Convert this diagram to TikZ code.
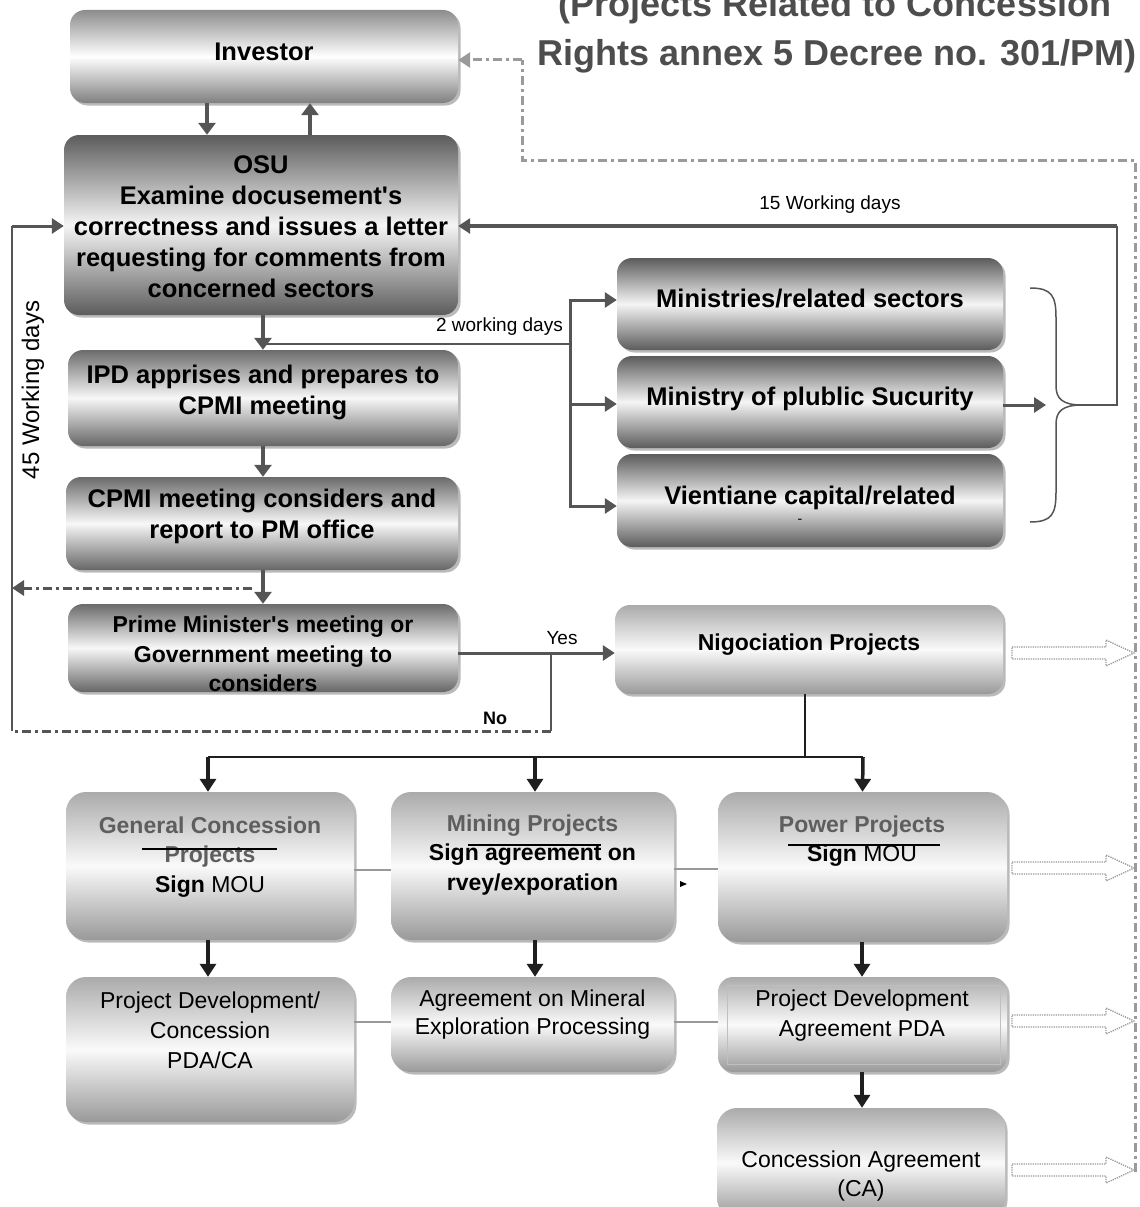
\documentclass[tikz,border=0pt]{standalone}
\usepackage{fontspec}
\setmainfont{Liberation Sans}[Ligatures=TeXOff]
\usetikzlibrary{arrows.meta,shadows}

\definecolor{linegray}{HTML}{555555}
\definecolor{dashgray}{HTML}{9A9A9A}
\definecolor{titlegray}{HTML}{4D4D4D}
\definecolor{headgray}{HTML}{5E5E5E}
\definecolor{linkgray}{HTML}{999999}

\tikzset{
  boxbase/.style={rounded corners=15pt, inner sep=0pt,
    drop shadow={shadow xshift=2.5pt, shadow yshift=-2.5pt, fill=black!45, opacity=0.6}},
  invbox/.style={boxbase, top color=black!45, bottom color=black!50, middle color=white},
  darkbox/.style={boxbase, top color=black!64, bottom color=black!64, middle color=black!4},
  midbox/.style={boxbase, top color=black!58, bottom color=black!60, middle color=black!3},
  lightbox/.style={boxbase, rounded corners=20pt, top color=black!33, bottom color=black!40, middle color=black!2},
  hb/.style={font=\fontsize{25.5}{31}\selectfont\bfseries, align=center, inner sep=0pt, text=black},
  hm/.style={font=\fontsize{23}{29.5}\selectfont\bfseries, align=center, inner sep=0pt, text=black},
  rm/.style={font=\fontsize{23}{30}\selectfont, align=center, inner sep=0pt, text=black},
  note/.style={font=\fontsize{19}{22}\selectfont, inner sep=0pt, text=black},
  titletext/.style={font=\fontsize{36}{42}\selectfont\bfseries, text=titlegray, inner sep=0pt},
  thinconn/.style={draw=linegray, line width=2.2pt},
  arr/.style={draw=linegray, line width=4pt, -{Triangle[length=12pt,width=17pt]}},
  farr/.style={draw=linegray, line width=3pt, -{Triangle[length=12pt,width=15pt]}},
  barr/.style={draw=black!88, line width=3.5pt, -{Triangle[length=13pt,width=16pt]}},
  bconn/.style={draw=black!88, line width=2.5pt},
  dashdot/.style={draw=linegray, line width=3pt, dash pattern=on 9pt off 4pt on 3pt off 4pt},
  graydd/.style={draw=dashgray, line width=3pt, dash pattern=on 9pt off 4pt on 3pt off 4pt},
  glink/.style={draw=linkgray, line width=2pt},
  hollow/.style={draw=dashgray, line width=1.3pt, densely dotted}
}

\begin{document}
\begin{tikzpicture}[x=1pt,y=-1pt]
\useasboundingbox (0,0) rectangle (1140,1207);
\clip (0,0) rectangle (1140,1207);

% heading (its first line runs past the top edge)
\node[titletext, anchor=base] (title1) at (835,17) {(Projects Related to Concession};
\node[titletext, anchor=base] (title2) at (837,66) {Rights annex 5 Decree no. 301/PM)};

% ---------- left column ----------
\node[invbox, minimum width=388pt, minimum height=93pt] (inv) at (264,56.5) {};
\node[hb] (invT) at (264,52) {Investor};

\node[darkbox, minimum width=394pt, minimum height=180pt] (osu) at (261,225) {};
\node[hb] (osuT) at (261,227) {OSU\\Examine docusement's\\correctness and issues a letter\\requesting for comments from\\concerned sectors};

\node[midbox, minimum width=390pt, minimum height=96pt] (ipd) at (263,398) {};
\node[hb] (ipdT) at (263,392) {IPD apprises and prepares to\\CPMI meeting};

\node[midbox, minimum width=392pt, minimum height=93pt] (cpmi) at (262,523.5) {};
\node[hb] (cpmiT) at (262,516) {CPMI meeting considers and\\report to PM office};

\node[midbox, minimum width=390pt, minimum height=88pt] (pm) at (263,648) {};
\node[hm] (pmT) at (263,654) {Prime Minister's meeting or\\Government meeting to\\considers};

% ---------- sectors ----------
\node[darkbox, minimum width=386pt, minimum height=92pt] (min1) at (810,304) {};
\node[hb] (min1T) at (810,299) {Ministries/related sectors};
\node[darkbox, minimum width=386pt, minimum height=92pt] (min2) at (810,402) {};
\node[hb] (min2T) at (810,399) {Ministry of plublic Sucurity};
\node[darkbox, minimum width=386pt, minimum height=93pt] (min3) at (810,500.5) {};
\node[hb] (min3T) at (810,498) {Vientiane capital/related};
\node[font=\fontsize{14}{14}\selectfont, inner sep=0pt] (min3d) at (800,521) {-};

\node[lightbox, rounded corners=15pt, minimum width=388pt, minimum height=89pt] (nego) at (809,649.5) {};
\node[hm] (negoT) at (809,645) {Nigociation Projects};

% ---------- project types ----------
\node[lightbox, minimum width=288pt, minimum height=148pt] (gen) at (210,866) {};
\node[hm] (genT) at (210,857) {\textcolor{headgray}{General Concession}\\\textcolor{headgray}{Projects}\\Sign \mdseries MOU};
\node[lightbox, minimum width=283pt, minimum height=148pt] (mine) at (532.5,866) {};
\node[hm] (mineT) at (532.5,855) {\textcolor{headgray}{Mining Projects}\\Sign agreement on\\rvey/exporation};
\node[lightbox, minimum width=289pt, minimum height=150pt] (pow) at (862.5,867) {};
\node[hm] (powT) at (862,841) {\textcolor{headgray}{Power Projects}\\Sign \mdseries MOU};

\node[lightbox, minimum width=288pt, minimum height=145pt] (pdca) at (210,1049.5) {};
\node[rm] (pdcaT) at (210,1030) {Project Development/\\Concession\\PDA/CA};
\node[lightbox, minimum width=283pt, minimum height=95pt] (amep) at (532.5,1024.5) {};
\node[rm, font=\fontsize{23}{28}\selectfont] (amepT) at (532.5,1015) {Agreement on Mineral\\Exploration Processing};
\node[lightbox, rounded corners=15pt, minimum width=289pt, minimum height=95pt] (pda) at (862.5,1024.5) {};
\draw[black!25, line width=1pt] (727,985) rectangle (1000,1064);
\node[rm] (pdaT) at (862,1016) {Project Development\\Agreement PDA};
\node[lightbox, minimum width=288pt, minimum height=110pt] (ca) at (861,1163) {};
\node[rm, font=\fontsize{23}{29}\selectfont] (caT) at (861,1176) {Concession Agreement\\(CA)};

% struck-through marks over the headings
\draw[black, line width=1.5pt] (142,849) -- (277,849);
\draw[black, line width=1.5pt] (468,845) -- (601,845);
\draw[black, line width=1.5pt] (788,845) -- (940,845);

% ---------- connectors: upper part ----------
\draw[arr] ([xshift=-57pt]inv.south) -- ([xshift=-54pt]osu.north);
\draw[arr] ([xshift=49pt]osu.north) -- ([xshift=46pt]inv.south);
\draw[arr] ([xshift=2pt]osu.south) -- (ipd.north);

\coordinate (split) at (263,344);
\coordinate (fork) at (570,344);
\draw[thinconn] (split) -- (fork);
\draw[farr] (fork) |- ([yshift=4pt]min1.west);
\draw[farr] (fork) |- ([yshift=-2pt]min2.west);
\draw[farr] (fork) |- ([yshift=-5.5pt]min3.west);
\node[note, anchor=east] (days2) at (563,327) {2 working days};

\draw[arr] (ipd.south) -- ([xshift=1pt]cpmi.north);
\draw[arr] ([xshift=1pt]cpmi.south) -- (pm.north);

\coordinate (dd1) at (252,588);
\coordinate (dd2) at (12,588);
\draw[dashdot, -{Triangle[length=12pt,width=15pt]}] (dd1) -- (dd2);

% decision
\draw[farr] ([yshift=-5pt]pm.east) -- ([yshift=-3.5pt]nego.west);
\node[note] (yes) at (562,638) {Yes};
\coordinate (nojoin) at (551,653);
\coordinate (nocorner) at (551,731);
\coordinate (loopbot) at (12,731);
\coordinate (looptop) at (12,226);
\draw[thinconn] (nojoin) -- (nocorner);
\draw[dashdot] (nocorner) -- (loopbot);
\draw[thinconn] (loopbot) -- (looptop);
\draw[farr] (looptop) -- ([yshift=-1pt]osu.west);
\node[note, font=\fontsize{18}{20}\selectfont\bfseries] (no) at (495,718) {No};
\node[note, font=\fontsize{24}{26}\selectfont, rotate=90] (days45) at (33,390) {45 Working days};

% sector replies
\coordinate (bracein) at (1046,405);
\draw[farr] ([yshift=-3pt]min2.east) -- (bracein);
\draw[draw=linegray, line width=1.5pt] (1030,288) .. controls (1052,288) and (1056,296) .. (1056,318)
  -- (1056,386) .. controls (1056,399) and (1063,405) .. (1082,405)
  .. controls (1063,405) and (1056,411) .. (1056,424)
  -- (1056,492) .. controls (1056,514) and (1052,522) .. (1030,522);
\coordinate (bracetip) at (1082,405);
\coordinate (ret) at (1117,405);
\coordinate (rettop) at (1117,226);
\draw[thinconn] (bracetip) -- (ret) -- (rettop);
\draw[farr, line width=3.5pt] (rettop) -- ([yshift=-1pt]osu.east);
\node[note] (days15) at (830,205) {15 Working days};

% feedback to the investor
\coordinate (g1) at (1135,1172);
\coordinate (g2) at (1135,160);
\coordinate (g3) at (522,160);
\coordinate (g4) at (522,60);
\draw[graydd] (g1) -- (g2) -- (g3) -- (g4);
\draw[graydd, -{Triangle[length=12pt,width=15pt]}] (g4) -- ([yshift=-3.5pt]inv.east);

% ---------- connectors: lower part ----------
\coordinate (nsplit) at (805,757);
\coordinate (nleft) at (208,757);
\coordinate (nmid) at (535,757);
\coordinate (nright) at (863,757);
\draw[bconn] ([xshift=-4pt]nego.south) -- (nsplit);
\draw[bconn] (nleft) -- (nright);
\draw[barr] (nleft) -- ([xshift=-2pt]gen.north);
\draw[barr] (nmid) -- ([xshift=2.5pt]mine.north);
\draw[barr] (nright) -- ([xshift=0pt]pow.north);

\draw[glink] ([yshift=-4pt]gen.east) -- ([yshift=-4pt]mine.west);
\draw[glink] ([yshift=-3pt]mine.east) -- ([yshift=-2pt]pow.west);
\draw[glink] ([yshift=27.5pt]pdca.east) -- ([yshift=2.5pt]amep.west);
\draw[glink] ([yshift=2.5pt]amep.east) -- ([yshift=2.5pt]pda.west);
\fill[black] (680,881) -- (687,884) -- (680,887) -- cycle;

\draw[barr] ([xshift=-2pt]gen.south) -- ([xshift=-2pt]pdca.north);
\draw[barr] ([xshift=2.5pt]mine.south) -- ([xshift=2.5pt]amep.north);
\draw[barr] ([xshift=-0.5pt]pow.south) -- ([xshift=-0.5pt]pda.north);
\draw[barr] ([xshift=-0.5pt]pda.south) -- ([xshift=1pt]ca.north);

% outlined arrows pointing at the investor feedback line
\foreach \yy in {653,868,1021,1170} {
  \draw[hollow] (1012,\yy-6) -- (1106,\yy-6) -- (1106,\yy-13) -- (1134,\yy)
    -- (1106,\yy+13) -- (1106,\yy+6) -- (1012,\yy+6) -- cycle;
}
\end{tikzpicture}
\end{document}
